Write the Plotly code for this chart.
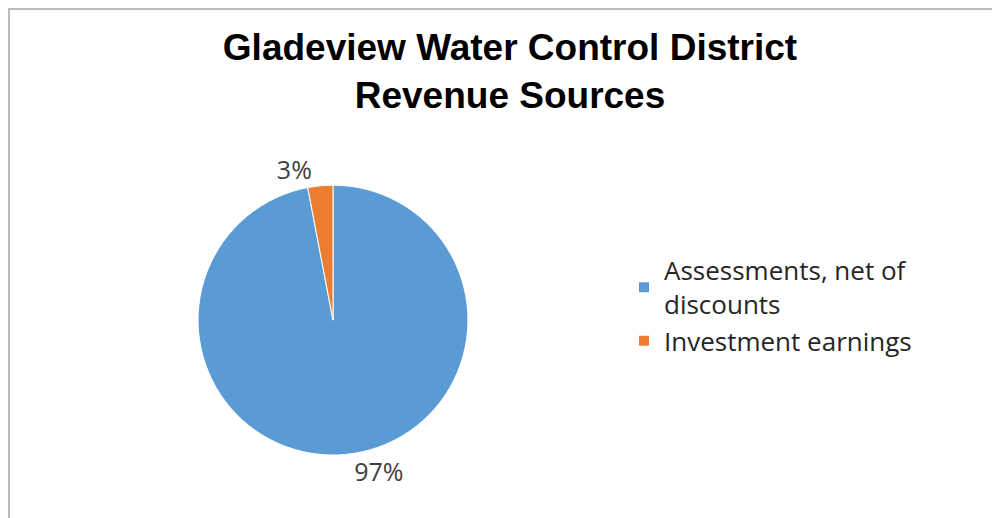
import plotly.graph_objects as go

labels = ["Assessments, net of<br>discounts", "Investment earnings"]
values = [97, 3]
colors = ["#5B9BD5", "#ED7D31"]

fig = go.Figure()
fig.add_trace(go.Pie(
    labels=labels,
    values=values,
    sort=False,
    direction="clockwise",
    rotation=0,
    marker=dict(colors=colors, line=dict(color="white", width=1)),
    textposition="outside",
    texttemplate="%{percent:.0%}",
    textfont=dict(family="Open Sans, Noto Sans, sans-serif", size=25, color="#404040"),
    domain=dict(x=[0.19, 0.46], y=[0.137, 0.658]),
    hoverinfo="label+percent",
))

fig.update_layout(
    width=1000, height=518,
    margin=dict(l=0, r=0, t=0, b=0),
    paper_bgcolor="white",
    title=dict(
        text="<b>Gladeview Water Control District<br>Revenue Sources</b>",
        x=0.502, xanchor="center", y=0.9, yanchor="middle",
        font=dict(family="Liberation Sans, Arial, sans-serif", size=37, color="black"),
    ),
    legend=dict(
        x=0.616, y=0.425, xanchor="left", yanchor="middle",
        font=dict(family="Open Sans, Noto Sans, sans-serif", size=26, color="#262626"),
        itemsizing="constant",
        tracegroupgap=10,
    ),
    shapes=[dict(type="rect", xref="paper", yref="paper", x0=0.001, x1=1.05, y0=-0.05, y1=0.998,
                 line=dict(color="#A6A6A6", width=1.5), fillcolor="rgba(0,0,0,0)")],
)

fig.write_html("out.html")
